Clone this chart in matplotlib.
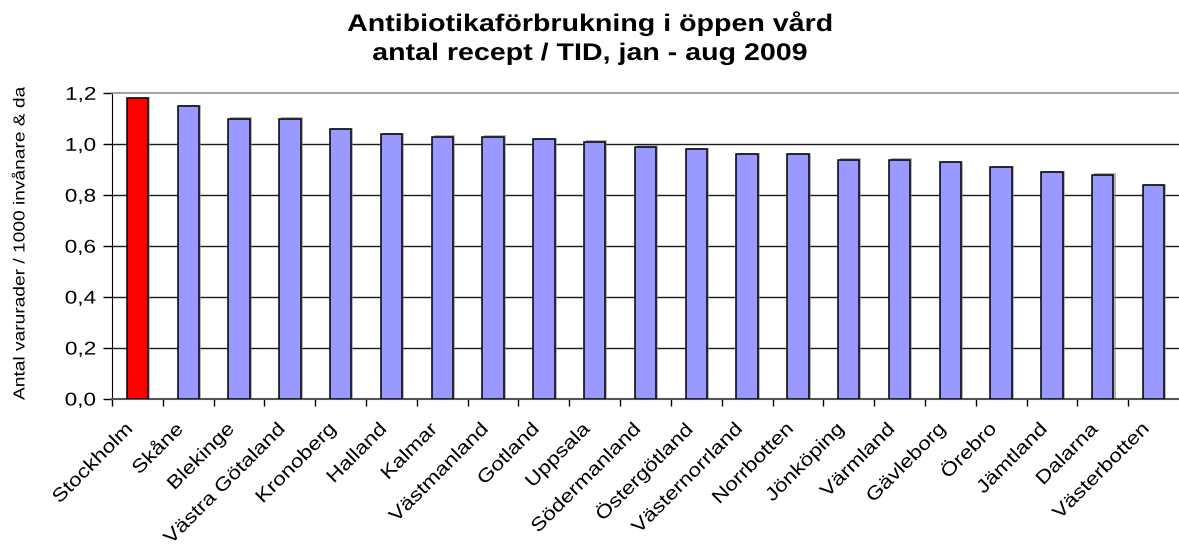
import matplotlib
matplotlib.use("Agg")
import matplotlib.pyplot as plt
import matplotlib.patheffects as pe
from matplotlib.transforms import Affine2D, Bbox
from matplotlib.ticker import FuncFormatter, FixedLocator
import numpy as np

plt.rcParams['font.family'] = ['Liberation Sans', 'DejaVu Sans']

# Data
lan = ["Stockholm", "Skåne", "Blekinge", "Västra Götaland", "Kronoberg", "Halland",
       "Kalmar", "Västmanland", "Gotland", "Uppsala", "Södermanland", "Östergötland",
       "Västernorrland", "Norrbotten", "Jönköping", "Värmland", "Gävleborg", "Örebro",
       "Jämtland", "Dalarna", "Västerbotten"]
varden = [1.18, 1.15, 1.10, 1.10, 1.06, 1.04, 1.03, 1.03, 1.02, 1.01, 0.99, 0.98,
          0.96, 0.96, 0.94, 0.94, 0.93, 0.91, 0.89, 0.88, 0.84]
farger = ["#FF0000"] + ["#9999FF"] * (len(lan) - 1)


# the reference text is drawn a bit wider than Arial, stretch glyphs along the baseline
class Stretch(pe.AbstractPathEffect):
    def __init__(self, sx=1.2, anchor="center"):
        super().__init__()
        self.sx = sx
        self.anchor = anchor

    def draw_path(self, renderer, gc, tpath, affine, rgbFace=None):
        ext = tpath.get_extents()
        cx = {"left": 0.0, "center": (ext.x0 + ext.x1) / 2, "right": ext.x1}[self.anchor]
        t = Affine2D().translate(-cx, 0).scale(self.sx, 1).translate(cx, 0)
        renderer.draw_path(gc, tpath, t + affine, rgbFace)


fig = plt.figure(figsize=(11.79, 5.47), dpi=100)
ax = fig.add_axes([112/1179, 1 - 399/547, 1 - 112/1179, (399 - 93.3)/547])

x = np.arange(len(lan))
bars = ax.bar(x, varden, width=0.42, color=farger, edgecolor="black", linewidth=1.1, zorder=3)
for b in bars:
    b.set_path_effects([pe.SimplePatchShadow(offset=(1.5, 1), shadow_rgbFace="#888888", alpha=0.6),
                        pe.Normal()])

ax.set_xlim(-0.5, len(lan) - 0.5)
ax.set_ylim(0, 1.2)
ax.set_yticks(np.arange(0, 1.21, 0.2))
ax.yaxis.set_major_formatter(FuncFormatter(lambda v, p: f"{v:.1f}".replace(".", ",")))
for yv in np.arange(0.2, 1.1, 0.2):
    ax.axhline(yv, color="#1a1a1a", linewidth=1.0, zorder=1)

ax.spines["top"].set_color("#909090")
ax.spines["top"].set_linewidth(1.2)
ax.spines["right"].set_visible(False)
ax.spines["left"].set_color("black")
ax.spines["bottom"].set_color("#555555")
ax.spines["bottom"].set_linewidth(1.5)

# tick marks between the bars, labels (via invisible minor ticks) a bit left of bar centres
ax.xaxis.set_major_locator(FixedLocator(np.arange(-0.5, len(lan) - 0.5, 1.0)))
ax.xaxis.set_minor_locator(FixedLocator(x - 0.14))
ax.set_xticklabels([])
ax.set_xticklabels(lan, minor=True, rotation=45, ha="right", va="center",
                   rotation_mode="anchor", fontsize=13.5)
ax.tick_params(axis="x", which="major", length=5, width=1, direction="out", color="black")
ax.tick_params(axis="x", which="minor", length=0, pad=20)
ax.tick_params(axis="y", length=6.5, width=1, labelsize=13.3, pad=5)

for lbl in ax.get_xticklabels(minor=True):
    lbl.set_path_effects([Stretch(1.2, "right")])
for lbl in ax.get_yticklabels():
    lbl.set_path_effects([Stretch(1.22, "right")])

ylab = fig.text(19/1179, 1 - 400/547, "Antal varurader / 1000 invånare & dag", rotation=90,
                ha="center", va="bottom", fontsize=11.5, path_effects=[Stretch(1.2, "left")])
# the reference cuts the label off at the top of the chart area
ylab.set_clip_box(Bbox.from_extents(0, 0, 1179, 547 - 87))
ylab.set_clip_on(True)

fig.text(0.5, 1 - 31/547, "Antibiotikaförbrukning i öppen vård", ha="center", va="baseline",
         fontsize=17.3, fontweight="bold", path_effects=[Stretch(1.19, "center")])
fig.text(0.5, 1 - 60/547, "antal recept / TID, jan - aug 2009", ha="center", va="baseline",
         fontsize=17.3, fontweight="bold", path_effects=[Stretch(1.19, "center")])

fig.savefig("out.png", dpi=100)
